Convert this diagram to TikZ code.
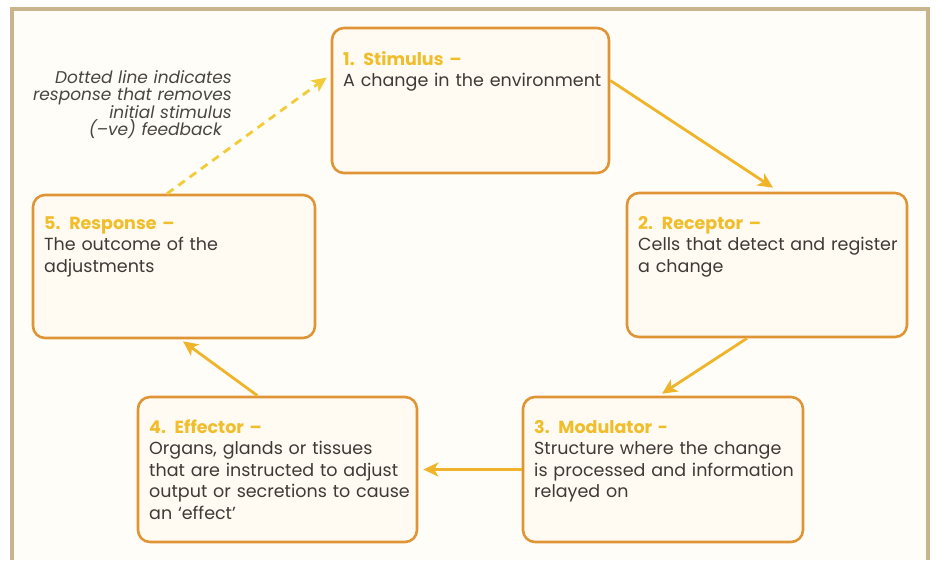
\documentclass[tikz,border=0pt]{standalone}
\usepackage{fontspec}
\setmainfont{Poppins}
\usetikzlibrary{arrows.meta}

\definecolor{frametan}{HTML}{C9B48E}
\definecolor{paper}{HTML}{FFFDF8}
\definecolor{boxfill}{HTML}{FFFAF2}
\definecolor{boxline}{HTML}{DF9536}
\definecolor{titlegold}{HTML}{F0BE2A}
\definecolor{arrowgold}{HTML}{EFB42A}
\definecolor{dashgold}{HTML}{F2CC38}
\definecolor{bodytext}{HTML}{3E3A36}
\definecolor{notetext}{HTML}{4A4540}

\newcommand{\stagetitle}[1]{{\bfseries\color{titlegold}#1}}

\begin{document}
\begin{tikzpicture}[x=1pt,y=-1pt,
  stagebox/.style={draw=boxline, line width=2.6pt, fill=boxfill,
    rounded corners=12pt, inner sep=0pt},
  stagetext/.style={anchor=base west, inner sep=0pt, align=left,
    text width=265pt, font=\fontsize{17.5}{21.5}\selectfont, text=bodytext},
  flow/.style={draw=arrowgold, line width=2.8pt,
    -{Stealth[length=15pt, width=14pt, inset=4pt]}},
  feedback/.style={draw=dashgold, line width=2.8pt, dash pattern=on 8pt off 6pt,
    -{Stealth[length=15pt, width=14pt, inset=4pt]}},
  notestyle/.style={anchor=base east, inner sep=0pt, align=right, text width=210pt,
    font=\itshape\fontsize{17}{17.5}\selectfont, text=notetext}
]
\useasboundingbox (0,0) rectangle (936,560);

% page and frame
\fill[white] (0,0) rectangle (936,560);
\fill[frametan] (10,7) rectangle (930,560);
\fill[paper] (14,11) rectangle (926,560);

% the five stages
\node[stagebox, minimum width=277pt, minimum height=145pt] (s1) at (470.5,100.5) {};
\node[stagebox, minimum width=280pt, minimum height=144pt] (s2) at (767,265) {};
\node[stagebox, minimum width=280pt, minimum height=145pt] (s3) at (663,469.5) {};
\node[stagebox, minimum width=279pt, minimum height=145pt] (s4) at (277.5,469.5) {};
\node[stagebox, minimum width=282pt, minimum height=143pt] (s5) at (174,266.5) {};

\node[stagetext] (t1) at (343,65) {\stagetitle{1. Stimulus –}\\A change in the environment};
\node[stagetext] (t2) at (638,229) {\stagetitle{2. Receptor –}\\Cells that detect and register\\a change};
\node[stagetext] (t3) at (534,433) {\stagetitle{3. Modulator -}\\Structure where the change\\is processed and information\\relayed on};
\node[stagetext] (t4) at (149,433) {\stagetitle{4. Effector –}\\Organs, glands or tissues\\that are instructed to adjust\\output or secretions to cause\\an ‘effect’};
\node[stagetext] (t5) at (44,229) {\stagetitle{5. Response –}\\The outcome of the\\adjustments};

% note on the feedback line
\node[notestyle] (note) at (232,83) {Dotted line indicates\\response that removes\hspace*{4pt}\\initial stimulus\hspace*{7pt}\\(–ve) feedback\hspace*{10pt}};

% connectors
\draw[flow] ([yshift=20pt]s1.east) -- ([xshift=6pt,yshift=4pt]s2.north);
\draw[flow] ([xshift=-20pt]s2.south) -- ([xshift=-1pt,yshift=2pt]s3.north);
\draw[flow] (s3.west) -- ([xshift=5pt]s4.east);
\draw[flow] ([xshift=-20pt]s4.north) -- ([xshift=9pt,yshift=-2pt]s5.south);
\draw[feedback] ([xshift=-7pt]s5.north) -- ([xshift=-4pt,yshift=23pt]s1.west);
\end{tikzpicture}
\end{document}
